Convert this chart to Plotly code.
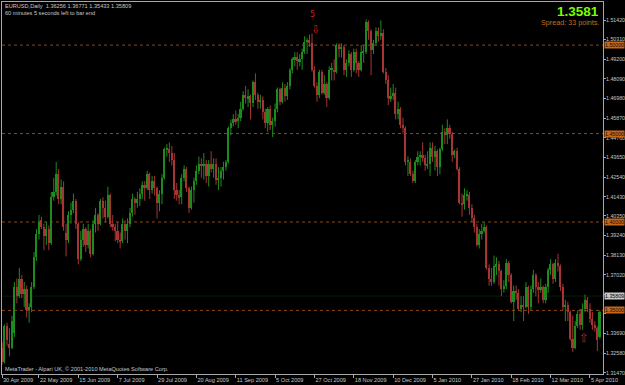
import plotly.graph_objects as go

# ---------------- data (EURUSD daily, 30 Apr 2009 .. 9 Apr 2010) ----------------
opens = [
1.3260,1.3290,1.3210,1.3410,1.3310,1.3290,1.3370,1.3630,1.3580,1.3680,
1.3590,1.3620,1.3500,1.3520,1.3630,1.3800,1.3930,1.4010,1.3970,1.3920,
1.3960,1.3880,1.4140,1.4170,1.4270,1.4130,1.4200,1.3940,1.3900,1.4040,
1.4070,1.4120,1.3990,1.3790,1.3900,1.3960,1.3870,1.3950,1.3820,1.3990,
1.4040,1.3990,1.4120,1.4080,1.4030,1.4150,1.3990,1.3970,1.3950,1.3900,
1.3890,1.3990,1.3950,1.3990,1.4050,1.4130,1.4110,1.4130,1.4160,1.4210,
1.4190,1.4270,1.4180,1.4230,1.4190,1.4110,1.4160,1.4250,1.4410,1.4410,
1.4390,1.4350,1.4180,1.4150,1.4140,1.4250,1.4300,1.4190,1.4080,1.4180,
1.4230,1.4290,1.4330,1.4320,1.4330,1.4260,1.4330,1.4300,1.4330,1.4240,
1.4250,1.4290,1.4310,1.4340,1.4530,1.4560,1.4580,1.4570,1.4590,1.4640,
1.4720,1.4700,1.4710,1.4670,1.4790,1.4720,1.4680,1.4690,1.4620,1.4560,
1.4640,1.4550,1.4570,1.4640,1.4750,1.4680,1.4760,1.4710,1.4770,1.4860,
1.4920,1.4930,1.4910,1.4920,1.4960,1.5020,1.5030,1.5010,1.4860,1.4770,
1.4720,1.4850,1.4730,1.4780,1.4700,1.4860,1.4860,1.4850,1.5000,1.4980,
1.4990,1.4860,1.4900,1.4950,1.4860,1.4960,1.4900,1.4860,1.4960,1.4960,
1.5130,1.5080,1.4970,1.5010,1.5080,1.5050,1.5070,1.4850,1.4800,1.4700,
1.4710,1.4730,1.4610,1.4640,1.4550,1.4530,1.4340,1.4340,1.4270,1.4230,
1.4340,1.4370,1.4380,1.4360,1.4320,1.4330,1.4420,1.4370,1.4400,1.4310,
1.4410,1.4510,1.4490,1.4530,1.4500,1.4380,1.4400,1.4300,1.4110,1.4100,
1.4150,1.4150,1.4080,1.4020,1.3970,1.3870,1.3930,1.3950,1.3970,1.3740,
1.3680,1.3660,1.3750,1.3760,1.3720,1.3620,1.3640,1.3770,1.3700,1.3550,
1.3610,1.3600,1.3510,1.3530,1.3520,1.3630,1.3520,1.3620,1.3700,1.3630,
1.3620,1.3630,1.3560,1.3630,1.3730,1.3760,1.3680,1.3770,1.3750,1.3630,
1.3520,1.3530,1.3490,1.3340,1.3290,1.3410,1.3480,1.3420,1.3510,1.3560,
1.3510,1.3450,1.3420,1.3400,1.3350]
highs = [
1.3360,1.3320,1.3420,1.3430,1.3400,1.3470,1.3660,1.3680,1.3740,1.3700,
1.3660,1.3640,1.3540,1.3660,1.3830,1.3960,1.4040,1.4030,1.3990,1.4000,
1.3980,1.4170,1.4250,1.4340,1.4300,1.4240,1.4230,1.3990,1.4060,1.4110,
1.4160,1.4130,1.4000,1.3950,1.3990,1.3970,1.3990,1.3960,1.4010,1.4080,
1.4050,1.4130,1.4140,1.4120,1.4200,1.4160,1.4040,1.3990,1.4000,1.3940,
1.4020,1.4010,1.4020,1.4080,1.4160,1.4140,1.4170,1.4190,1.4230,1.4230,
1.4290,1.4280,1.4260,1.4260,1.4200,1.4180,1.4270,1.4420,1.4440,1.4450,
1.4430,1.4390,1.4220,1.4180,1.4270,1.4320,1.4310,1.4200,1.4200,1.4250,
1.4320,1.4370,1.4360,1.4390,1.4350,1.4350,1.4400,1.4360,1.4360,1.4310,
1.4310,1.4340,1.4350,1.4540,1.4580,1.4610,1.4630,1.4610,1.4680,1.4740,
1.4770,1.4750,1.4720,1.4800,1.4840,1.4730,1.4720,1.4710,1.4640,1.4650,
1.4660,1.4590,1.4670,1.4760,1.4760,1.4790,1.4780,1.4790,1.4870,1.4930,
1.4960,1.4960,1.4950,1.4980,1.5050,1.5040,1.5060,1.5065,1.4880,1.4790,
1.4860,1.4860,1.4830,1.4790,1.4880,1.4900,1.4920,1.5010,1.5010,1.5010,
1.5000,1.4920,1.4970,1.4960,1.4980,1.4980,1.4910,1.5000,1.5000,1.5145,
1.5140,1.5090,1.5030,1.5100,1.5100,1.5140,1.5090,1.4870,1.4830,1.4760,
1.4780,1.4760,1.4680,1.4650,1.4590,1.4540,1.4370,1.4360,1.4290,1.4350,
1.4400,1.4400,1.4450,1.4380,1.4400,1.4450,1.4450,1.4430,1.4410,1.4420,
1.4550,1.4530,1.4580,1.4550,1.4510,1.4410,1.4420,1.4310,1.4160,1.4190,
1.4180,1.4170,1.4100,1.4040,1.3990,1.3960,1.3990,1.4000,1.3980,1.3760,
1.3740,1.3810,1.3800,1.3780,1.3730,1.3670,1.3790,1.3780,1.3710,1.3640,
1.3640,1.3620,1.3580,1.3580,1.3660,1.3640,1.3640,1.3730,1.3710,1.3660,
1.3680,1.3640,1.3650,1.3740,1.3790,1.3770,1.3790,1.3820,1.3760,1.3650,
1.3560,1.3550,1.3500,1.3470,1.3440,1.3500,1.3510,1.3540,1.3590,1.3575,
1.3540,1.3490,1.3440,1.3410,1.3500]
lows = [
1.3190,1.3195,1.3200,1.3300,1.3240,1.3280,1.3350,1.3540,1.3570,1.3570,
1.3520,1.3460,1.3430,1.3490,1.3620,1.3780,1.3900,1.3960,1.3840,1.3870,
1.3840,1.3870,1.4120,1.4150,1.4100,1.4100,1.3950,1.3805,1.3880,1.3990,
1.4050,1.3960,1.3760,1.3780,1.3860,1.3830,1.3850,1.3800,1.3810,1.3940,
1.3950,1.3980,1.4020,1.4000,1.4020,1.3970,1.3950,1.3890,1.3880,1.3850,
1.3880,1.3900,1.3880,1.3970,1.4030,1.4040,1.4080,1.4090,1.4130,1.4120,
1.4180,1.4130,1.4160,1.4150,1.4020,1.4060,1.4100,1.4240,1.4370,1.4340,
1.4320,1.4130,1.4120,1.4100,1.4100,1.4230,1.4170,1.4050,1.4070,1.4110,
1.4210,1.4270,1.4250,1.4240,1.4220,1.4200,1.4280,1.4250,1.4210,1.4180,
1.4200,1.4240,1.4290,1.4330,1.4490,1.4540,1.4550,1.4530,1.4570,1.4630,
1.4670,1.4650,1.4580,1.4650,1.4690,1.4640,1.4640,1.4580,1.4530,1.4510,
1.4520,1.4480,1.4540,1.4620,1.4660,1.4670,1.4680,1.4690,1.4750,1.4840,
1.4880,1.4860,1.4880,1.4860,1.4950,1.4950,1.4990,1.4850,1.4760,1.4680,
1.4700,1.4720,1.4720,1.4650,1.4690,1.4800,1.4800,1.4840,1.4930,1.4930,
1.4830,1.4820,1.4880,1.4820,1.4850,1.4840,1.4820,1.4850,1.4900,1.4950,
1.5030,1.4830,1.4950,1.5000,1.5020,1.5030,1.4840,1.4780,1.4660,1.4680,
1.4690,1.4580,1.4580,1.4530,1.4500,1.4320,1.4260,1.4260,1.4220,1.4220,
1.4320,1.4320,1.4340,1.4290,1.4300,1.4260,1.4340,1.4290,1.4260,1.4270,
1.4400,1.4440,1.4440,1.4470,1.4340,1.4360,1.4290,1.4100,1.4030,1.4070,
1.4120,1.4040,1.4000,1.3940,1.3860,1.3850,1.3900,1.3940,1.3730,1.3640,
1.3640,1.3650,1.3700,1.3640,1.3580,1.3600,1.3620,1.3660,1.3540,1.3440,
1.3560,1.3500,1.3490,1.3440,1.3510,1.3480,1.3500,1.3600,1.3580,1.3540,
1.3600,1.3540,1.3540,1.3600,1.3700,1.3650,1.3660,1.3720,1.3610,1.3500,
1.3440,1.3440,1.3330,1.3265,1.3280,1.3400,1.3390,1.3390,1.3490,1.3490,
1.3430,1.3390,1.3380,1.3270,1.3340]
closes = [
1.3290,1.3210,1.3410,1.3330,1.3290,1.3440,1.3630,1.3580,1.3680,1.3590,
1.3620,1.3500,1.3520,1.3630,1.3800,1.3930,1.4000,1.3970,1.3920,1.3960,
1.3880,1.4140,1.4170,1.4270,1.4130,1.4200,1.3970,1.3900,1.4040,1.4070,
1.4120,1.3990,1.3790,1.3900,1.3960,1.3870,1.3950,1.3820,1.3990,1.4040,
1.3990,1.4120,1.4080,1.4030,1.4150,1.3990,1.3970,1.3950,1.3900,1.3890,
1.3990,1.3950,1.3990,1.4050,1.4130,1.4110,1.4130,1.4160,1.4210,1.4190,
1.4270,1.4180,1.4230,1.4190,1.4110,1.4160,1.4250,1.4410,1.4410,1.4390,
1.4350,1.4180,1.4150,1.4140,1.4250,1.4300,1.4190,1.4080,1.4180,1.4230,
1.4290,1.4330,1.4320,1.4330,1.4260,1.4330,1.4300,1.4330,1.4240,1.4250,
1.4290,1.4310,1.4340,1.4530,1.4560,1.4580,1.4570,1.4590,1.4640,1.4720,
1.4700,1.4710,1.4670,1.4790,1.4720,1.4680,1.4690,1.4620,1.4560,1.4640,
1.4550,1.4570,1.4640,1.4750,1.4680,1.4760,1.4710,1.4770,1.4860,1.4920,
1.4930,1.4910,1.4920,1.4960,1.5020,1.5030,1.5010,1.4860,1.4770,1.4720,
1.4850,1.4730,1.4780,1.4700,1.4860,1.4865,1.4850,1.5000,1.4980,1.4990,
1.4860,1.4900,1.4950,1.4860,1.4960,1.4900,1.4860,1.4960,1.4965,1.5130,
1.5080,1.4970,1.5010,1.5080,1.5050,1.5070,1.4850,1.4800,1.4700,1.4710,
1.4730,1.4610,1.4640,1.4550,1.4530,1.4340,1.4345,1.4270,1.4230,1.4340,
1.4370,1.4380,1.4360,1.4320,1.4330,1.4420,1.4370,1.4400,1.4310,1.4410,
1.4510,1.4490,1.4530,1.4500,1.4380,1.4400,1.4300,1.4110,1.4100,1.4150,
1.4155,1.4080,1.4020,1.3970,1.3870,1.3930,1.3950,1.3970,1.3740,1.3680,
1.3660,1.3750,1.3760,1.3720,1.3620,1.3640,1.3770,1.3700,1.3550,1.3610,
1.3600,1.3510,1.3530,1.3520,1.3630,1.3520,1.3620,1.3700,1.3630,1.3620,
1.3630,1.3560,1.3630,1.3730,1.3760,1.3680,1.3770,1.3750,1.3630,1.3520,
1.3530,1.3490,1.3340,1.3290,1.3410,1.3480,1.3420,1.3510,1.3560,1.3510,
1.3450,1.3420,1.3400,1.3330,1.3490]

date_labels = ["30 Apr 2009", "22 May 2009", "15 Jun 2009", "7 Jul 2009", "29 Jul 2009",
               "20 Aug 2009", "11 Sep 2009", "5 Oct 2009", "27 Oct 2009", "18 Nov 2009",
               "10 Dec 2009", "5 Jan 2010", "27 Jan 2010", "18 Feb 2010", "12 Mar 2010",
               "5 Apr 2010"]
date_label_bars = [0.96, 16, 32, 48, 64, 80, 96, 112, 128, 144, 160, 176, 192, 208, 224, 240]

price_ticks = [1.51420, 1.50310, 1.49200, 1.48090, 1.46980, 1.45870, 1.44760, 1.43650,
               1.42540, 1.41430, 1.40350, 1.39240, 1.38130, 1.37020, 1.35910, 1.34800,
               1.33690, 1.32580, 1.31470]
# labels hidden in the reference under the price boxes are left blank
price_tick_text = ["1.51420", "1.50310", "1.49200", "1.48090", "1.46980", "1.45870",
                   "1.44760", "1.43650", "1.42540", "1.41430", "1.40350", "1.39240",
                   "1.38130", "1.37020", "", "", "1.33690", "1.32580", "1.31470"]
level_prices = [1.50000, 1.45000, 1.40000, 1.35000]
current_price = 1.35809

header = "EURUSD,Daily  1.36256 1.36771 1.35433 1.35809"
subheader = "60 minutes 5 seconds left to bar end"
big_price = "1.3581"
spread_text = "Spread: 33 points."
footer = "MetaTrader - Alpari UK, \u00a9 2001-2010 MetaQuotes Software Corp."

# ---------------- styling ----------------
W, H = 625, 385
ML, MR, MT, MB = 2, 22, 2, 11
BG = "#000000"
GREEN = "#1c8c1c"
RED = "#a83434"
AXIS = "#a8a8a8"
TXT = "#c8c8c8"
FONT = "Liberation Sans"
SMALL = 5.6
YFONT = 5.25

n = len(closes)
xs = list(range(n))

fig = go.Figure()

for up, col in ((True, GREEN), (False, RED)):
    idx = [i for i in xs if (closes[i] >= opens[i]) == up]
    wx, wy = [], []
    for i in idx:
        wx += [i, i, None]
        wy += [lows[i], highs[i], None]
    fig.add_trace(go.Scatter(x=wx, y=wy, mode="lines",
                             line=dict(color=col, width=1), hoverinfo="skip",
                             showlegend=False))
    fig.add_trace(go.Bar(x=idx,
                         y=[max(abs(closes[i] - opens[i]), 0.0004) for i in idx],
                         base=[min(opens[i], closes[i]) for i in idx],
                         width=0.66, marker=dict(color=col, line=dict(width=0)),
                         hoverinfo="skip", showlegend=False))

shapes = []
for p in level_prices:
    shapes.append(dict(type="line", xref="paper", x0=0, x1=1, yref="y", y0=p, y1=p,
                       line=dict(color="#8f4812", width=1, dash="dot"), layer="below"))
shapes.append(dict(type="line", xref="paper", x0=0, x1=1, yref="y",
                   y0=current_price, y1=current_price,
                   line=dict(color="#0a1c0a", width=1), layer="below"))

ann = []
def pxx(px):
    return (px - ML) / (W - ML - MR)
def pxy(py):
    return (H - MB - py) / (H - MT - MB)

ann.append(dict(text=header, xref="paper", yref="paper", x=pxx(3), y=pxy(6),
                xanchor="left", yanchor="middle", showarrow=False,
                font=dict(family=FONT, size=SMALL, color=TXT)))
ann.append(dict(text=subheader, xref="paper", yref="paper", x=pxx(3), y=pxy(13),
                xanchor="left", yanchor="middle", showarrow=False,
                font=dict(family=FONT, size=SMALL, color=TXT)))
ann.append(dict(text="<b>" + big_price + "</b>", xref="paper", yref="paper",
                x=pxx(601), y=pxy(11.5), xanchor="right", yanchor="middle",
                showarrow=False, font=dict(family=FONT, size=13.5, color="#7cfc00")))
ann.append(dict(text=spread_text, xref="paper", yref="paper", x=pxx(601), y=pxy(23),
                xanchor="right", yanchor="middle", showarrow=False,
                font=dict(family=FONT, size=7.2, color="#d2691e")))
ann.append(dict(text=footer, xref="paper", yref="paper", x=pxx(3), y=pxy(369),
                xanchor="left", yanchor="middle", showarrow=False,
                font=dict(family=FONT, size=SMALL, color=TXT)))

for p in level_prices:
    ann.append(dict(text="%.5f" % p, xref="paper", yref="y", x=1.0, y=p,
                    xanchor="left", yanchor="middle", showarrow=False,
                    bgcolor="#c4681c", borderpad=0, xshift=1,
                    font=dict(family=FONT, size=YFONT, color="#1a0a00")))
ann.append(dict(text="%.5f" % current_price, xref="paper", yref="y", x=1.0, y=current_price,
                xanchor="left", yanchor="middle", showarrow=False,
                bgcolor="#c8c8c8", borderpad=0, xshift=1,
                font=dict(family=FONT, size=YFONT, color="#000000")))

# arrow objects ("5" label sits just above the down arrow)
ann.append(dict(text="5", xref="x", yref="y", x=127.3, y=1.5126, showarrow=False,
                yanchor="bottom", yshift=2,
                font=dict(family="DejaVu Sans", size=8, color="#d41e1e")))
ann.append(dict(text="\u21e9", xref="x", yref="y", x=128.3, y=1.5126, showarrow=False,
                yanchor="top", yshift=2,
                font=dict(family="DejaVu Sans", size=11, color="#d41e1e")))
ann.append(dict(text="\u21e7", xref="x", yref="y", x=237.4, y=1.3344, showarrow=False,
                font=dict(family="DejaVu Sans", size=12, color="#d41e1e")))

fig.update_layout(
    width=W, height=H, margin=dict(l=ML, r=MR, t=MT, b=MB, autoexpand=False),
    paper_bgcolor=BG, plot_bgcolor=BG, barmode="overlay", bargap=0,
    showlegend=False, shapes=shapes, annotations=ann,
    xaxis=dict(range=[0.96, 245.3], showgrid=False, zeroline=False, automargin=False,
               showline=True, linecolor=AXIS, linewidth=1, mirror=True,
               tickmode="array", tickvals=date_label_bars, ticktext=date_labels,
               tickangle=0, ticks="outside", ticklen=3, tickcolor=AXIS, tickwidth=1,
               ticklabelposition="outside right",
               tickfont=dict(family=FONT, size=SMALL, color=TXT), fixedrange=True),
    yaxis=dict(range=[1.31403, 1.52438], side="right", showgrid=False, zeroline=False,
               automargin=False,
               showline=True, linecolor=AXIS, linewidth=1, mirror=True,
               tickmode="array", tickvals=price_ticks, ticktext=price_tick_text,
               ticks="outside", ticklen=2, tickcolor=AXIS, tickwidth=1,
               ticklabelstandoff=-1,
               tickfont=dict(family=FONT, size=YFONT, color=TXT), fixedrange=True),
)

fig.write_html("out.html")
